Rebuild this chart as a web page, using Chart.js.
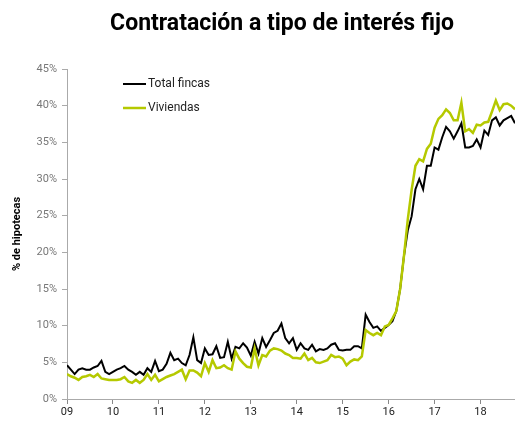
<!DOCTYPE html>
<html>
<head>
<meta charset="utf-8">
<script src="https://cdn.jsdelivr.net/npm/chart.js@4.4.1/dist/chart.umd.min.js"></script>
<style>
  html, body { margin: 0; padding: 0; background: #fff; }
  #wrap { width: 515px; height: 421px; }
</style>
</head>
<body>
<div id="wrap"><canvas id="c" width="515" height="421"></canvas></div>
<script>
// Monthly data, Jan 2009 – Oct 2018 (% of mortgages at fixed rate)
const chartTitle = 'Contratación a tipo de interés fijo';
const seriesNames = ['Total fincas', 'Viviendas'];
const yearLabels = ['09', '10', '11', '12', '13', '14', '15', '16', '17', '18'];
const yTickValues = [0, 5, 10, 15, 20, 25, 30, 35, 40, 45];

const totalFincas = [
  4.6, 4.0, 3.4, 4.0, 4.2, 4.0, 4.0, 4.3, 4.5, 5.2, 3.7, 3.4,
  3.7, 4.0, 4.2, 4.5, 4.0, 3.7, 3.3, 3.7, 3.3, 4.2, 3.7, 5.2,
  3.8, 4.0, 4.8, 6.3, 5.3, 5.5, 4.9, 4.6, 6.0, 8.4, 5.3, 4.9,
  6.9, 6.0, 6.1, 7.2, 5.6, 5.7, 7.8, 5.5, 7.1, 6.9, 7.6, 7.0,
  5.9, 7.8, 6.2, 8.3, 7.1, 8.0, 9.0, 9.3, 10.3, 8.3, 7.6, 8.3,
  6.7, 7.6, 6.9, 6.7, 7.4, 6.5, 6.8, 6.7, 6.9, 7.4, 7.6, 6.7,
  6.6, 6.7, 6.7, 7.2, 7.2, 6.9, 11.5, 10.5, 9.7, 9.9, 9.3, 9.7,
  10.1, 10.6, 12.0, 15.0, 19.5, 23.0, 24.9, 28.6, 30.0, 28.6, 31.8, 31.8,
  34.3, 34.0, 35.7, 37.1, 36.5, 35.5, 36.5, 37.6, 34.3, 34.3, 34.5, 35.4,
  34.3, 36.6, 36.0, 38.0, 38.4, 37.3, 38.0, 38.3, 38.6, 37.6
];

const viviendas = [
  3.4, 3.1, 2.9, 2.6, 3.0, 3.1, 3.3, 3.0, 3.4, 2.8, 2.7, 2.6,
  2.6, 2.6, 2.7, 3.0, 2.4, 2.2, 2.6, 2.2, 2.6, 3.4, 2.6, 3.3,
  2.4, 2.7, 3.0, 3.2, 3.4, 3.7, 4.0, 2.7, 3.9, 3.9, 3.6, 3.1,
  4.9, 3.7, 5.3, 4.2, 4.3, 4.6, 4.2, 4.0, 6.5, 5.5, 4.9, 4.4,
  4.3, 6.9, 4.6, 6.0, 5.8, 6.6, 6.9, 6.8, 6.6, 6.2, 6.0, 5.6,
  5.6, 5.5, 6.2, 5.3, 5.6, 5.0, 4.9, 5.1, 5.3, 6.0, 5.7, 5.8,
  5.5, 4.6, 5.1, 5.4, 5.3, 5.8, 9.4, 9.0, 8.7, 9.0, 8.7, 9.9,
  10.1, 11.0, 12.0, 15.0, 19.5, 24.5, 28.5, 31.8, 32.7, 32.4, 34.1, 34.8,
  37.0, 38.2, 38.7, 39.5, 39.0, 38.0, 38.0, 40.4, 36.5, 36.8, 36.3, 37.4,
  37.3, 37.7, 37.8, 39.2, 40.7, 39.4, 40.2, 40.3, 40.0, 39.5
];

const FONT = 'Roboto, "Liberation Sans", Arial, sans-serif';
const toPoints = arr => arr.map((v, i) => ({ x: i, y: v }));

const titleAndLegend = {
  id: 'titleAndLegend',
  afterDraw(chart) {
    const ctx = chart.ctx;
    ctx.save();
    // title
    ctx.fillStyle = '#000';
    ctx.font = 'bold 23px ' + FONT;
    ctx.textAlign = 'center';
    ctx.textBaseline = 'middle';
    ctx.fillText(chartTitle, 282, 24);
    // legend inside plot
    chart.data.datasets.forEach((ds, i) => {
      const y = 84 + i * 24;
      ctx.strokeStyle = ds.borderColor;
      ctx.lineWidth = ds.borderWidth;
      ctx.beginPath();
      ctx.moveTo(123, y);
      ctx.lineTo(146, y);
      ctx.stroke();
      ctx.fillStyle = '#222';
      ctx.font = '12px ' + FONT;
      ctx.textBaseline = 'middle';
      ctx.textAlign = 'left';
      ctx.fillText(ds.label, 148, y);
    });
    ctx.restore();
  }
};

new Chart(document.getElementById('c'), {
  type: 'line',
  data: {
    datasets: [
      { label: seriesNames[0], data: toPoints(totalFincas), borderColor: '#000000',
        borderWidth: 2, pointRadius: 0, tension: 0, order: 2 },
      { label: seriesNames[1], data: toPoints(viviendas), borderColor: '#b5c900',
        borderWidth: 2.5, pointRadius: 0, tension: 0, order: 1 }
    ]
  },
  options: {
    responsive: false,
    animation: false,
    layout: { padding: { left: 0, right: 0, top: 69, bottom: 0 } },
    plugins: {
      legend: { display: false },
      tooltip: { enabled: false },
      title: { display: false }
    },
    scales: {
      x: {
        type: 'linear',
        min: 0,
        max: totalFincas.length - 1,
        afterBuildTicks: s => { s.ticks = yearLabels.map((l, i) => ({ value: i * 12 })); },
        afterFit: s => { s.height = 22; },
        ticks: {
          autoSkip: false,
          maxRotation: 0,
          padding: 2,
          color: '#222',
          font: { family: FONT, size: 11 },
          callback: (v, i) => yearLabels[i]
        },
        grid: { drawOnChartArea: false, drawTicks: true, tickLength: 5, color: '#888' },
        border: { display: true, color: '#aaa', width: 1 }
      },
      y: {
        min: 0,
        max: 45,
        afterBuildTicks: s => { s.ticks = yTickValues.map(v => ({ value: v })); },
        afterFit: s => { s.width = 67; },
        ticks: {
          padding: 5,
          color: '#777',
          font: { family: FONT, size: 11 },
          callback: v => v + '%'
        },
        grid: { drawOnChartArea: false, drawTicks: true, tickLength: 5, color: '#aaa' },
        border: { display: true, color: '#aaa', width: 1 },
        title: {
          display: true,
          text: '% de hipotecas',
          color: '#000',
          font: { family: FONT, size: 11, weight: 'bold' },
          padding: { top: 11, bottom: 0 }
        }
      }
    }
  },
  plugins: [titleAndLegend]
});
</script>
</body>
</html>
